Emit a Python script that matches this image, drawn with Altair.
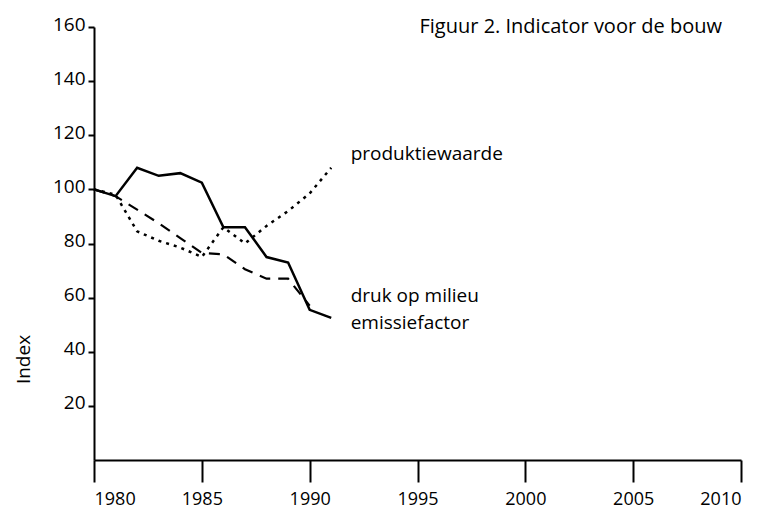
import altair as alt
import pandas as pd

years = list(range(1980, 1992))
emissiefactor = [100, 97.5, 108, 105, 106, 102.5, 86, 86, 75, 73, 55.5, 52.5]
produktiewaarde = [100, 98, 84.5, 81, 78.5, 75, 86, 80, 86.5, 92, 98.5, 108]
druk_years = list(range(1980, 1991))
druk_op_milieu = [100, 97.5, 92.5, 87.5, 82, 76.5, 76, 70.5, 67, 67, 57]

label_texts = ["produktiewaarde", "druk op milieu", "emissiefactor"]
label_x = [1991.9, 1991.9, 1991.9]
label_y = [113, 60.5, 50.5]

x_ticks = [1980, 1985, 1990, 1995, 2000, 2005, 2010]
y_ticks = [20, 40, 60, 80, 100, 120, 140, 160]

FONT = "Open Sans"

df_e = pd.DataFrame({"jaar": years, "index": emissiefactor})
df_p = pd.DataFrame({"jaar": years, "index": produktiewaarde})
df_d = pd.DataFrame({"jaar": druk_years, "index": druk_op_milieu})
df_l = pd.DataFrame({"jaar": label_x, "index": label_y, "tekst": label_texts})

xenc = alt.X("jaar:Q", scale=alt.Scale(domain=[1980, 2010], nice=False, zero=False),
             axis=alt.Axis(values=x_ticks, format="d", title=None, grid=False,
                           tickSize=22, labelPadding=8, labelFontSize=18))
yenc = alt.Y("index:Q", scale=alt.Scale(domain=[0, 160], nice=False),
             axis=alt.Axis(values=y_ticks, title="Index", grid=False, tickSize=6,
                           labelPadding=3, labelOffset=-3, titleX=-71, titleY=332, titleAngle=270,
                           titleAlign="center", titleBaseline="middle",
                           titleFont=FONT, titleFontSize=19, titleFontWeight="normal"))

solid = alt.Chart(df_e).mark_line(color="black", strokeWidth=2.5).encode(x=xenc, y=yenc)
dotted = alt.Chart(df_p).mark_line(color="black", strokeWidth=2.5, strokeDash=[3, 5]).encode(x="jaar:Q", y="index:Q")
dashed = alt.Chart(df_d).mark_line(color="black", strokeWidth=2.2, strokeDash=[11, 8]).encode(x="jaar:Q", y="index:Q")
labels = alt.Chart(df_l).mark_text(align="left", baseline="middle", font=FONT, fontSize=19,
                                   color="black").encode(x="jaar:Q", y="index:Q", text="tekst:N")

chart = alt.layer(solid, dotted, dashed, labels).properties(
    width=647, height=433,
    background="white",
    autosize=alt.AutoSizeParams(type="none"),
    padding={"left": 86, "top": 19, "right": 18, "bottom": 70},
    title=alt.TitleParams("Figuur 2. Indicator voor de bouw", anchor="end", font=FONT,
                          fontSize=20, fontWeight=500, color="black", dx=-20, dy=22, offset=0),
).configure_view(strokeWidth=0).configure_axis(
    domainColor="black", domainWidth=2, tickColor="black", tickWidth=2,
    labelColor="black", labelFont=FONT, labelFontSize=19, titleColor="black"
)

chart.save("out.html", embed_options={"renderer": "svg", "actions": False})
